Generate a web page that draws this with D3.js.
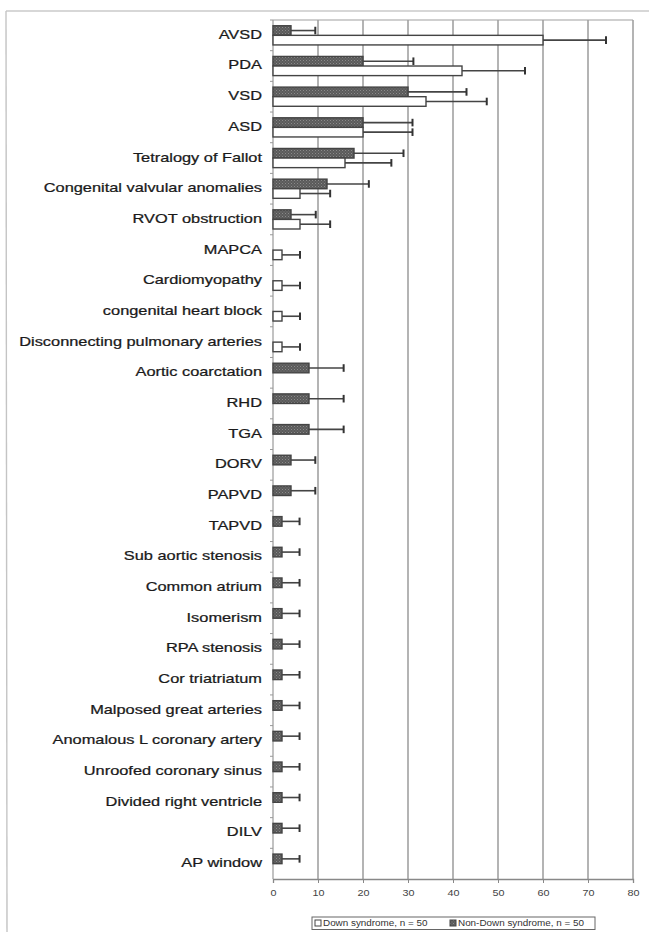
<!DOCTYPE html>
<html>
<head>
<meta charset="utf-8">
<script src="https://cdn.jsdelivr.net/npm/d3@7"></script>
<style>
  html, body { margin: 0; padding: 0; background: #fff; }
  svg { display: block; }
</style>
</head>
<body>
<svg id="chart" width="649" height="932"></svg>
<script>
// Cardiac lesion frequency (%), with error bar half-widths
const categories = [
  "AVSD", "PDA", "VSD", "ASD", "Tetralogy of Fallot", "Congenital valvular anomalies",
  "RVOT obstruction", "MAPCA", "Cardiomyopathy", "congenital heart block",
  "Disconnecting pulmonary arteries", "Aortic coarctation", "RHD", "TGA", "DORV",
  "PAPVD", "TAPVD", "Sub aortic stenosis", "Common atrium", "Isomerism",
  "RPA stenosis", "Cor triatriatum", "Malposed great arteries",
  "Anomalous L coronary artery", "Unroofed coronary sinus", "Divided right ventricle",
  "DILV", "AP window"
];
const downValues = [60, 42, 34, 20, 16, 6, 6, 2, 2, 2, 2, 0, 0, 0, 0, 0, 0, 0, 0, 0, 0, 0, 0, 0, 0, 0, 0, 0];
const downErrors = [14, 14, 13.5, 11, 10.3, 6.7, 6.7, 4, 4, 4, 4, 0, 0, 0, 0, 0, 0, 0, 0, 0, 0, 0, 0, 0, 0, 0, 0, 0];
const nonDownValues = [4, 20, 30, 20, 18, 12, 4, 0, 0, 0, 0, 8, 8, 8, 4, 4, 2, 2, 2, 2, 2, 2, 2, 2, 2, 2, 2, 2];
const nonDownErrors = [5.4, 11.2, 13, 11, 11, 9.3, 5.5, 0, 0, 0, 0, 7.7, 7.7, 7.7, 5.4, 5.4, 3.9, 3.9, 3.9, 3.9, 3.9, 3.9, 3.9, 3.9, 3.9, 3.9, 3.9, 3.9];
const xTicks = [0, 10, 20, 30, 40, 50, 60, 70, 80];
const seriesNames = ["Down syndrome, n = 50", "Non-Down syndrome, n = 50"];

const FONT = "Liberation Sans, Arial, sans-serif";
const svg = d3.select("#chart");
const plot = { left: 273, right: 633, top: 20, bottom: 879 };

// hatched fill for the non-Down series
const defs = svg.append("defs");
const pat = defs.append("pattern").attr("id", "hatch")
  .attr("patternUnits", "userSpaceOnUse").attr("width", 3).attr("height", 3);
pat.append("rect").attr("width", 3).attr("height", 3).attr("fill", "#5a5a5a");
pat.append("rect").attr("x", 0).attr("y", 0).attr("width", 1).attr("height", 1).attr("fill", "#8a8a8a");
pat.append("rect").attr("x", 1.5).attr("y", 1.5).attr("width", 1).attr("height", 1).attr("fill", "#7a7a7a");

// outer page frame
svg.append("line").attr("x1", 6).attr("x2", 649).attr("y1", 11).attr("y2", 11)
  .attr("stroke", "#b0b0b0").attr("stroke-width", 1.2);
svg.append("line").attr("x1", 6).attr("x2", 7).attr("y1", 11).attr("y2", 932)
  .attr("stroke", "#c4c4c4").attr("stroke-width", 1.4);

const x = d3.scaleLinear().domain([0, 80]).range([plot.left, plot.right]);
const y = d3.scaleBand().domain(categories).range([plot.top, plot.bottom]).paddingInner(0).paddingOuter(0);
const sub = d3.scaleBand().domain(["nonDown", "down"]).range([0, y.bandwidth()]).paddingInner(0).paddingOuter(0.6);

// vertical gridlines
svg.append("g").selectAll("line").data(xTicks.slice(1)).join("line")
  .attr("x1", d => x(d)).attr("x2", d => x(d))
  .attr("y1", plot.top).attr("y2", plot.bottom)
  .attr("stroke", "#8c8c8c").attr("stroke-width", 1.3);
// top frame line
svg.append("line").attr("x1", plot.left).attr("x2", plot.right)
  .attr("y1", plot.top).attr("y2", plot.top)
  .attr("stroke", "#a0a0a0").attr("stroke-width", 1.2);

// x axis
const xAxis = svg.append("g").attr("transform", `translate(0,${plot.bottom})`)
  .call(d3.axisBottom(x).tickValues(xTicks).tickSize(4).tickFormat(d3.format("d")));
xAxis.select(".domain").attr("stroke", "#888").attr("stroke-width", 1.3);
xAxis.selectAll(".tick line").attr("stroke", "#888");
xAxis.selectAll(".tick text").attr("font-family", FONT)
  .attr("font-size", 9).attr("fill", "#444").attr("y", 0)
  .attr("dy", 0)
  .attr("transform", "translate(0,17) scale(1.2,1)");

// y axis line and category boundary ticks
svg.append("line").attr("x1", plot.left).attr("x2", plot.left)
  .attr("y1", plot.top).attr("y2", plot.bottom)
  .attr("stroke", "#999").attr("stroke-width", 1.2);
svg.append("g").selectAll("line").data(categories).join("line")
  .attr("x1", plot.left - 3).attr("x2", plot.left)
  .attr("y1", d => y(d)).attr("y2", d => y(d))
  .attr("stroke", "#999").attr("stroke-width", 1);

// category labels (wide face)
svg.append("g").selectAll("text").data(categories).join("text")
  .attr("transform", d => `translate(262,${y(d) + y.bandwidth() / 2}) scale(1.24,1)`)
  .attr("text-anchor", "end").attr("dominant-baseline", "middle")
  .attr("font-family", FONT).attr("font-size", 13.2)
  .attr("fill", "#1a1a1a").attr("stroke", "#1a1a1a").attr("stroke-width", 0.25)
  .text(d => d);

// series rows
const rows = categories.map((c, i) => ({
  cat: c,
  nonDown: nonDownValues[i], nonDownErr: nonDownErrors[i],
  down: downValues[i], downErr: downErrors[i]
}));

const series = [
  { key: "nonDown", err: "nonDownErr", fill: "url(#hatch)" },
  { key: "down", err: "downErr", fill: "#ffffff" }
];

series.forEach(s => {
  const g = svg.append("g");
  const data = rows.filter(r => r[s.key] > 0);
  g.selectAll("line.err").data(data).join("line").attr("class", "err")
    .attr("x1", d => x(d[s.key])).attr("x2", d => x(d[s.key] + d[s.err]))
    .attr("y1", d => y(d.cat) + sub(s.key) + sub.bandwidth() / 2)
    .attr("y2", d => y(d.cat) + sub(s.key) + sub.bandwidth() / 2)
    .attr("stroke", "#444").attr("stroke-width", 1.6);
  g.selectAll("line.cap").data(data).join("line").attr("class", "cap")
    .attr("x1", d => x(d[s.key] + d[s.err])).attr("x2", d => x(d[s.key] + d[s.err]))
    .attr("y1", d => y(d.cat) + sub(s.key) + 1)
    .attr("y2", d => y(d.cat) + sub(s.key) + sub.bandwidth() - 1)
    .attr("stroke", "#333").attr("stroke-width", 2);
  g.selectAll("rect").data(data).join("rect")
    .attr("x", x(0)).attr("width", d => x(d[s.key]) - x(0))
    .attr("y", d => y(d.cat) + sub(s.key))
    .attr("height", sub.bandwidth())
    .attr("fill", s.fill).attr("stroke", "#444").attr("stroke-width", 1.4);
});

// legend
const legend = svg.append("g").attr("transform", "translate(312,917)");
legend.append("rect").attr("width", 283).attr("height", 12.5)
  .attr("fill", "#fff").attr("stroke", "#666").attr("stroke-width", 1);
const items = [
  { name: seriesNames[0], fill: "#fff", x: 3 },
  { name: seriesNames[1], fill: "url(#hatch)", x: 138 }
];
items.forEach(it => {
  legend.append("rect").attr("x", it.x).attr("y", 3).attr("width", 6).attr("height", 6)
    .attr("fill", it.fill).attr("stroke", "#444").attr("stroke-width", 1);
  legend.append("text")
    .attr("transform", `translate(${it.x + 8},6.8) scale(1.15,1)`)
    .attr("dominant-baseline", "middle")
    .attr("font-family", FONT).attr("font-size", 8.6)
    .attr("fill", "#333").text(it.name);
});
</script>
</body>
</html>
